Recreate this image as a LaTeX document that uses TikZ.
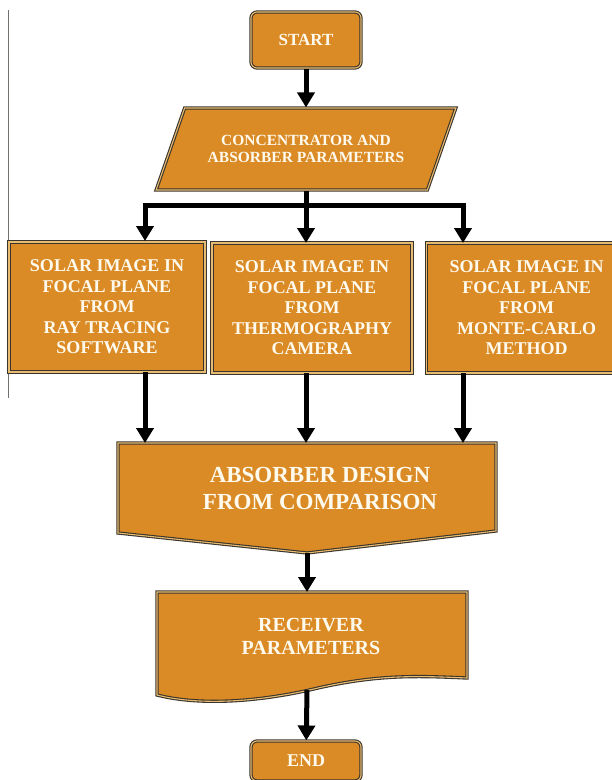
\documentclass[tikz,border=0pt]{standalone}
\usepackage{fontspec}
\setmainfont{Liberation Serif}
\usetikzlibrary{
    arrows.meta,
    shapes.geometric,
    positioning
}
\definecolor{boxorange}{RGB}{218,139,38}
\definecolor{boxedge}{RGB}{58,52,46}
\definecolor{boxinner}{RGB}{232,188,112}
\definecolor{boxtext}{RGB}{255,250,238}
\tikzset{
    shapebox/.style={draw=boxedge, double=boxinner, double distance=1.1pt,
        line width=1.1pt, fill=boxorange, text=boxtext, align=center},
    termbox/.style={shapebox, rounded corners=6pt, minimum width=110pt},
    sourcebox/.style={shapebox, minimum width=196pt, minimum height=130pt,
        font=\bfseries\fontsize{18}{20.5}\selectfont},
    flow/.style={line width=5pt, -{Triangle[width=17pt,length=15pt]}},
    bar/.style={line width=5pt}
}

\begin{document}
\begin{tikzpicture}[x=1pt, y=-1pt]
    \useasboundingbox (0,0) rectangle (612,780);
    \clip (0,0) rectangle (612,780);
    \draw[boxedge!70, line width=0.8pt] (8,10) -- (8,398);

    \node[termbox, minimum height=56pt, font=\bfseries\fontsize{17}{20}\selectfont] (start) at (306,40) {START};
    \node[shapebox, trapezium, trapezium left angle=55, trapezium right angle=125,
        trapezium stretches=true, minimum width=300pt, minimum height=82pt,
        font=\bfseries\fontsize{15.5}{17}\selectfont] (params) at (306,149)
        {CONCENTRATOR AND\\ABSORBER PARAMETERS};

    \node[sourcebox] (ray) at (107,307) {SOLAR IMAGE IN\\FOCAL PLANE\\FROM\\RAY TRACING\\SOFTWARE};
    \node[sourcebox, minimum width=200pt] (thermo) at (312,308) {SOLAR IMAGE IN\\FOCAL PLANE\\FROM\\THERMOGRAPHY\\CAMERA};
    \node[sourcebox, minimum width=200pt, anchor=west] (monte) at (426,308) {SOLAR IMAGE IN\\FOCAL PLANE\\FROM\\MONTE-CARLO\\METHOD};

    % absorber design (pointed bottom)
    \draw[shapebox] (118,443) -- (496,443) -- (496,531) -- (307,553) -- (118,533) -- cycle;
    \node[text=boxtext, align=center, font=\bfseries\fontsize{23}{27}\selectfont] (design) at (320,488)
        {ABSORBER DESIGN\\FROM COMPARISON};

    % receiver (document shape)
    \draw[shapebox] (157,592) -- (467,592) -- (467,678)
        .. controls (420,676) and (380,674) .. (318,688)
        .. controls (260,702) and (200,706) .. (157,695) -- cycle;
    \node[text=boxtext, align=center, font=\bfseries\fontsize{20}{23}\selectfont] (recv) at (311,636)
        {RECEIVER\\PARAMETERS};

    \node[termbox, minimum height=40pt, font=\bfseries\fontsize{18}{20}\selectfont] (finish) at (306,761) {END};

    \coordinate (paramsout) at (params.south -| params.center);
    \coordinate (split) at (306,205);
    \coordinate (rayin) at (145,241);
    \coordinate (thermoin) at (306,243);
    \coordinate (montein) at (463,243);
    \coordinate (rayout) at (145,372);
    \coordinate (thermoout) at (306,373);
    \coordinate (monteout) at (463,373);
    \coordinate (rayd) at (145,443);
    \coordinate (thermod) at (306,443);
    \coordinate (monted) at (463,443);
    \coordinate (designout) at (307,553);
    \coordinate (recvin) at (307,592);
    \coordinate (recvout) at (307,690);

    \draw[flow] (start) -- (start |- params.north);
    \draw[bar] (paramsout) -- (split);
    \draw[flow] (split) -| (rayin);
    \draw[flow] (split) -- (thermoin);
    \draw[flow] (split) -| (montein);
    \draw[flow] (rayout) -- (rayd);
    \draw[flow] (thermoout) -- (thermod);
    \draw[flow] (monteout) -- (monted);
    \draw[flow] (designout) -- (recvin);
    \draw[flow] (recvout) -- (finish);
\end{tikzpicture}
\end{document}
